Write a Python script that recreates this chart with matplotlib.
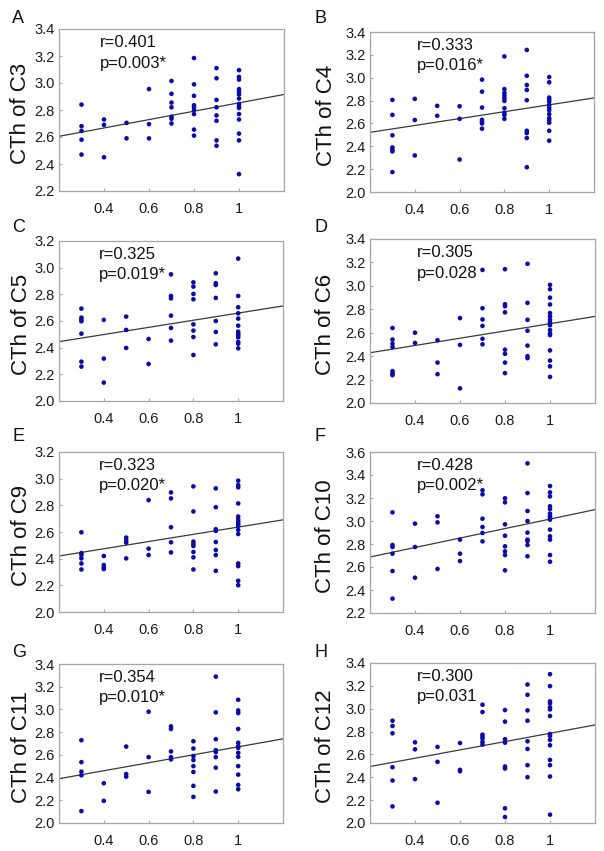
import matplotlib
matplotlib.use("Agg")
import matplotlib.pyplot as plt

plt.rcParams['font.family'] = ['Liberation Sans', 'DejaVu Sans']

# ---------------- data ----------------
x_levels = [0.3, 0.4, 0.5, 0.6, 0.7, 0.8, 0.9, 1.0]

c3 = [[2.84, 2.68, 2.645, 2.58, 2.47],
      [2.73, 2.69, 2.45],
      [2.705, 2.59],
      [2.955, 2.695, 2.59],
      [3.015, 2.92, 2.855, 2.82, 2.75, 2.735, 2.70],
      [3.185, 2.99, 2.905, 2.835, 2.82, 2.80, 2.77, 2.655, 2.61],
      [3.11, 3.035, 2.875, 2.82, 2.76, 2.72, 2.575, 2.535],
      [3.095, 3.045, 3.025, 2.955, 2.935, 2.915, 2.885, 2.845, 2.825, 2.815,
       2.77, 2.73, 2.625, 2.575, 2.325]]

c4 = [[2.806, 2.675, 2.496, 2.39, 2.37, 2.355, 2.174],
      [2.815, 2.63, 2.32],
      [2.754, 2.667],
      [2.75, 2.64, 2.284],
      [2.983, 2.878, 2.739, 2.632, 2.614, 2.60, 2.554],
      [3.186, 2.90, 2.867, 2.843, 2.82, 2.797, 2.733, 2.693, 2.675, 2.64],
      [3.243, 3.017, 2.936, 2.893, 2.803, 2.536, 2.516, 2.472, 2.217],
      [3.006, 2.96, 2.826, 2.809, 2.791, 2.762, 2.739, 2.716, 2.681, 2.646,
       2.629, 2.606, 2.536, 2.449]]

c5 = [[2.693, 2.625, 2.61, 2.598, 2.505, 2.295, 2.258],
      [2.608, 2.318, 2.138],
      [2.633, 2.533, 2.398],
      [2.465, 2.278],
      [2.95, 2.788, 2.77, 2.64, 2.548, 2.453],
      [2.89, 2.858, 2.803, 2.763, 2.575, 2.528, 2.48, 2.345],
      [2.958, 2.883, 2.87, 2.773, 2.60, 2.518, 2.425],
      [3.068, 2.788, 2.703, 2.658, 2.618, 2.565, 2.52, 2.505, 2.493, 2.478,
       2.443, 2.43, 2.395]]

c6 = [[2.64, 2.542, 2.507, 2.478, 2.272, 2.252, 2.238],
      [2.60, 2.513],
      [2.536, 2.345, 2.246],
      [2.725, 2.496, 2.125],
      [3.136, 2.809, 2.713, 2.658, 2.548, 2.501],
      [3.142, 2.843, 2.826, 2.774, 2.455, 2.42, 2.345, 2.255],
      [3.188, 2.855, 2.71, 2.617, 2.49, 2.40, 2.383],
      [3.009, 2.971, 2.899, 2.841, 2.768, 2.739, 2.71, 2.687, 2.664, 2.623,
       2.594, 2.58, 2.449, 2.362, 2.313, 2.223]]

c9 = [[2.598, 2.442, 2.427, 2.402, 2.364, 2.319],
      [2.42, 2.352, 2.334, 2.322],
      [2.558, 2.535, 2.52, 2.402],
      [2.839, 2.475, 2.427],
      [2.897, 2.852, 2.636, 2.523, 2.447],
      [2.942, 2.754, 2.528, 2.51, 2.495, 2.45, 2.41, 2.319],
      [2.927, 2.786, 2.621, 2.608, 2.525, 2.465, 2.427, 2.309],
      [2.985, 2.952, 2.935, 2.814, 2.716, 2.693, 2.678, 2.661, 2.646, 2.616,
       2.585, 2.364, 2.344, 2.234, 2.201]]

c10 = [[3.075, 2.791, 2.774, 2.716, 2.565, 2.325],
       [2.977, 2.774, 2.507],
       [3.041, 2.988, 2.583],
       [2.838, 2.716, 2.652],
       [3.267, 3.232, 3.02, 2.948, 2.896, 2.823],
       [3.197, 3.162, 2.971, 2.872, 2.78, 2.736, 2.704, 2.571],
       [3.501, 3.243, 3.087, 3.0, 2.899, 2.838, 2.826, 2.791, 2.693],
       [3.304, 3.249, 3.214, 3.128, 3.104, 3.064, 3.041, 3.029, 3.012, 2.925,
        2.867, 2.838, 2.704, 2.646]]

c11 = [[2.729, 2.536, 2.452, 2.42, 2.105],
       [2.35, 2.195],
       [2.673, 2.431, 2.408],
       [2.98, 2.58, 2.274],
       [2.851, 2.828, 2.63, 2.58, 2.56],
       [2.72, 2.656, 2.589, 2.554, 2.501, 2.449, 2.327, 2.23],
       [3.289, 2.974, 2.738, 2.641, 2.624, 2.58, 2.487, 2.277],
       [3.085, 2.991, 2.968, 2.828, 2.706, 2.676, 2.662, 2.618, 2.583, 2.501,
        2.426, 2.335, 2.297]]

c12 = [[2.895, 2.849, 2.785, 2.488, 2.372, 2.145],
       [2.706, 2.645, 2.384],
       [2.666, 2.535, 2.177],
       [2.70, 2.465, 2.453],
       [3.035, 2.971, 2.773, 2.756, 2.738, 2.709, 2.686],
       [2.988, 2.887, 2.733, 2.703, 2.494, 2.477, 2.128, 2.052],
       [3.212, 3.122, 2.985, 2.895, 2.715, 2.648, 2.506, 2.401],
       [3.302, 3.198, 3.064, 3.047, 3.012, 2.994, 2.936, 2.779, 2.762, 2.727,
        2.68, 2.552, 2.506, 2.407, 2.073]]

panel_letters = ['A', 'B', 'C', 'D', 'E', 'F', 'G', 'H']
ylabels = ['CTh of C3', 'CTh of C4', 'CTh of C5', 'CTh of C6',
           'CTh of C9', 'CTh of C10', 'CTh of C11', 'CTh of C12']
r_texts = ['r=0.401', 'r=0.333', 'r=0.325', 'r=0.305',
           'r=0.323', 'r=0.428', 'r=0.354', 'r=0.300']
p_texts = ['p=0.003*', 'p=0.016*', 'p=0.019*', 'p=0.028',
           'p=0.020*', 'p=0.002*', 'p=0.010*', 'p=0.031']
# fitted line value at x=0.2 and x=1.2
fit_left = [2.605, 2.522, 2.445, 2.429, 2.42, 2.687, 2.39, 2.494]
fit_right = [2.915, 2.823, 2.713, 2.739, 2.691, 3.099, 2.741, 2.858]
y_limits = [(2.2, 3.4), (2.0, 3.4), (2.0, 3.2), (2.0, 3.4),
            (2.0, 3.2), (2.2, 3.6), (2.0, 3.4), (2.0, 3.4)]
x_ticks = [0.4, 0.6, 0.8, 1.0]
x_ticklabels = ['0.4', '0.6', '0.8', '1']
fit_x = [0.2, 1.2]

series = [c3, c4, c5, c6, c9, c10, c11, c12]

# ---------------- layout ----------------
W, H = 604, 851
fig = plt.figure(figsize=(W / 100, H / 100), dpi=100)

# axes boxes in pixels: (left, top, right, bottom)
boxes = [(59, 29, 284, 191), (370, 32, 594, 192),
         (59, 241, 283, 401), (370, 239, 595, 403),
         (59, 452, 283, 612), (370, 452, 595, 613),
         (59, 664, 283, 823), (370, 663, 595, 823)]
letter_base = [23, 23, 232, 232, 441, 441, 657, 657]
spine_col = '#a6a6a6'

for i in range(8):
    l, t, r, b = boxes[i]
    ax = fig.add_axes([l / W, 1 - b / H, (r - l) / W, (b - t) / H])
    xs, ys = [], []
    for xv, grp in zip(x_levels, series[i]):
        xs.extend([xv] * len(grp))
        ys.extend(grp)
    ax.scatter(xs, ys, s=11, color='#0a0aa8', edgecolors='none', zorder=3)
    ax.plot(fit_x, [fit_left[i], fit_right[i]], color='#3a3a3a', lw=0.9, zorder=2)
    ax.set_xlim(0.2, 1.2)
    lo, hi = y_limits[i]
    ax.set_ylim(lo, hi)
    nt = int(round((hi - lo) / 0.2)) + 1
    yt = [lo + 0.2 * k for k in range(nt)]
    ax.set_yticks(yt)
    ax.set_yticklabels(['%.1f' % v for v in yt])
    ax.set_xticks(x_ticks)
    ax.set_xticklabels(x_ticklabels)
    ax.tick_params(axis='both', length=2, direction='in', color=spine_col,
                   labelsize=10.5, labelcolor='#1a1a1a')
    ax.tick_params(axis='x', pad=8)
    ax.tick_params(axis='y', pad=3)
    for sp in ax.spines.values():
        sp.set_color(spine_col)
        sp.set_linewidth(0.9)
    left_col = (i % 2 == 0)
    tx = 0.18 if left_col else 0.21
    ax.text(tx, 0.915, r_texts[i], transform=ax.transAxes, fontsize=12,
            ha='left', va='center', color='#111111')
    ax.text(tx, 0.79, p_texts[i], transform=ax.transAxes, fontsize=12,
            ha='left', va='center', color='#111111')
    lx = -0.169 if left_col else -0.196
    ax.text(lx, 0.48, ylabels[i], transform=ax.transAxes, fontsize=16,
            rotation=90, ha='center', va='center', color='#111111')
    fx = 12 if left_col else 314
    fig.text(fx / W, 1 - letter_base[i] / H, panel_letters[i], fontsize=13,
             ha='left', va='baseline', color='#111111')

fig.savefig('out.png', dpi=100)
